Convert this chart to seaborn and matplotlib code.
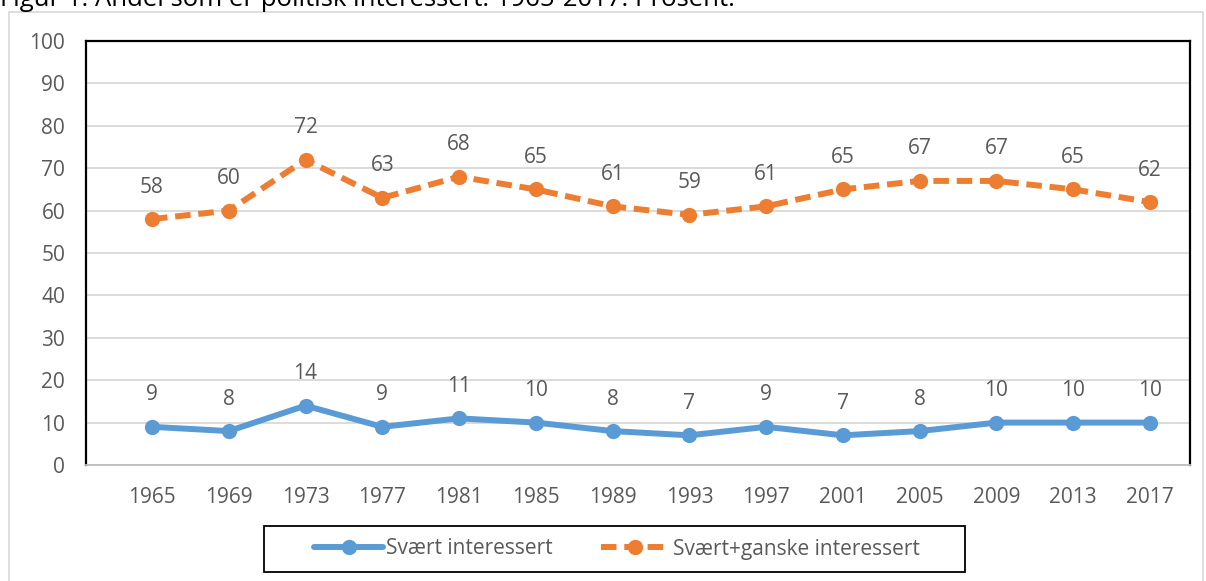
import numpy as np
import pandas as pd
import seaborn as sns
import matplotlib.pyplot as plt
from matplotlib.patches import Rectangle
from matplotlib.lines import Line2D

years = ["1965", "1969", "1973", "1977", "1981", "1985", "1989",
         "1993", "1997", "2001", "2005", "2009", "2013", "2017"]
svaert = [9, 8, 14, 9, 11, 10, 8, 7, 9, 7, 8, 10, 10, 10]
svaert_ganske = [58, 60, 72, 63, 68, 65, 61, 59, 61, 65, 67, 67, 65, 62]

blue = "#5B9BD5"
orange = "#ED7D31"
txt = "#595959"
fs = 15

sns.set_style("white")
plt.rcParams['font.family'] = ['Open Sans', 'DejaVu Sans']

df = pd.DataFrame({"pos": np.arange(len(years)), "blue": svaert, "orange": svaert_ganske})

fig = plt.figure(figsize=(12.06, 5.81), dpi=100)
ax = fig.add_axes([86 / 1206, 1 - 465 / 581, (1190 - 86) / 1206, (465 - 41) / 581])

dash = (0, (2.6, 1.3))
sns.lineplot(data=df, x="pos", y="blue", ax=ax, color=blue, lw=4.3,
             marker="o", markersize=11, markeredgewidth=0, zorder=3)
sns.lineplot(data=df, x="pos", y="orange", ax=ax, color=orange, lw=4.3,
             linestyle=dash, marker="o", markersize=11,
             markeredgewidth=0, zorder=3)

# data labels
for i in range(len(years)):
    ax.annotate(str(svaert[i]), (i, svaert[i]), xytext=(0, 23),
                textcoords="offset points", ha="center", va="center",
                fontsize=fs, color=txt)
    ax.annotate(str(svaert_ganske[i]), (i, svaert_ganske[i]), xytext=(0, 23),
                textcoords="offset points", ha="center", va="center",
                fontsize=fs, color=txt)

ax.set_ylim(0, 100)
ax.set_xlim(-66 / 76.8, 13 + 40 / 76.8)
ax.set_yticks(range(0, 101, 10))
ax.set_xticks(range(len(years)))
ax.set_xticklabels(years)
ax.tick_params(axis="both", length=0, labelsize=fs, labelcolor=txt)
ax.tick_params(axis="y", pad=15)
ax.tick_params(axis="x", pad=16)
ax.set_xlabel("")
ax.set_ylabel("")
ax.yaxis.grid(True, color="#D9D9D9", lw=1.3)
ax.set_axisbelow(True)
for s in ["left", "top", "right"]:
    ax.spines[s].set_color("black")
    ax.spines[s].set_linewidth(1.6)
ax.spines["bottom"].set_color("#BFBFBF")
ax.spines["bottom"].set_linewidth(1.3)

# outer chart frame
fig.patches.append(Rectangle((9 / 1206, -0.05), 1194 / 1206, 1.05 - 12 / 581,
                             transform=fig.transFigure, fill=False,
                             edgecolor="#D9D9D9", lw=1.2))

# title (cut off at top, as in the source)
fig.text(0, 1 - 6 / 581, "Figur 1: Andel som er politisk interessert. 1965-2017. Prosent.",
         fontsize=18.5, color="black", va="baseline", ha="left")

# legend box
fig.patches.append(Rectangle((264 / 1206, 1 - 572 / 581), 701 / 1206, 46 / 581,
                             transform=fig.transFigure, fill=False,
                             edgecolor="black", lw=1.3))
handles = [
    Line2D([], [], color=blue, lw=4.3, marker="o", markersize=11, markeredgewidth=0),
    Line2D([], [], color=orange, lw=4.3, linestyle=dash, marker="o",
           markersize=11, markeredgewidth=0),
]
leg = fig.legend(handles, ["Svært interessert", "Svært+ganske interessert"],
                 loc="center", bbox_to_anchor=(617 / 1206, 1 - 549 / 581),
                 ncol=2, frameon=False, fontsize=fs, handlelength=3.3,
                 columnspacing=2.3, handletextpad=0.15)
for t in leg.get_texts():
    t.set_color(txt)

fig.savefig("out.png", dpi=100)
